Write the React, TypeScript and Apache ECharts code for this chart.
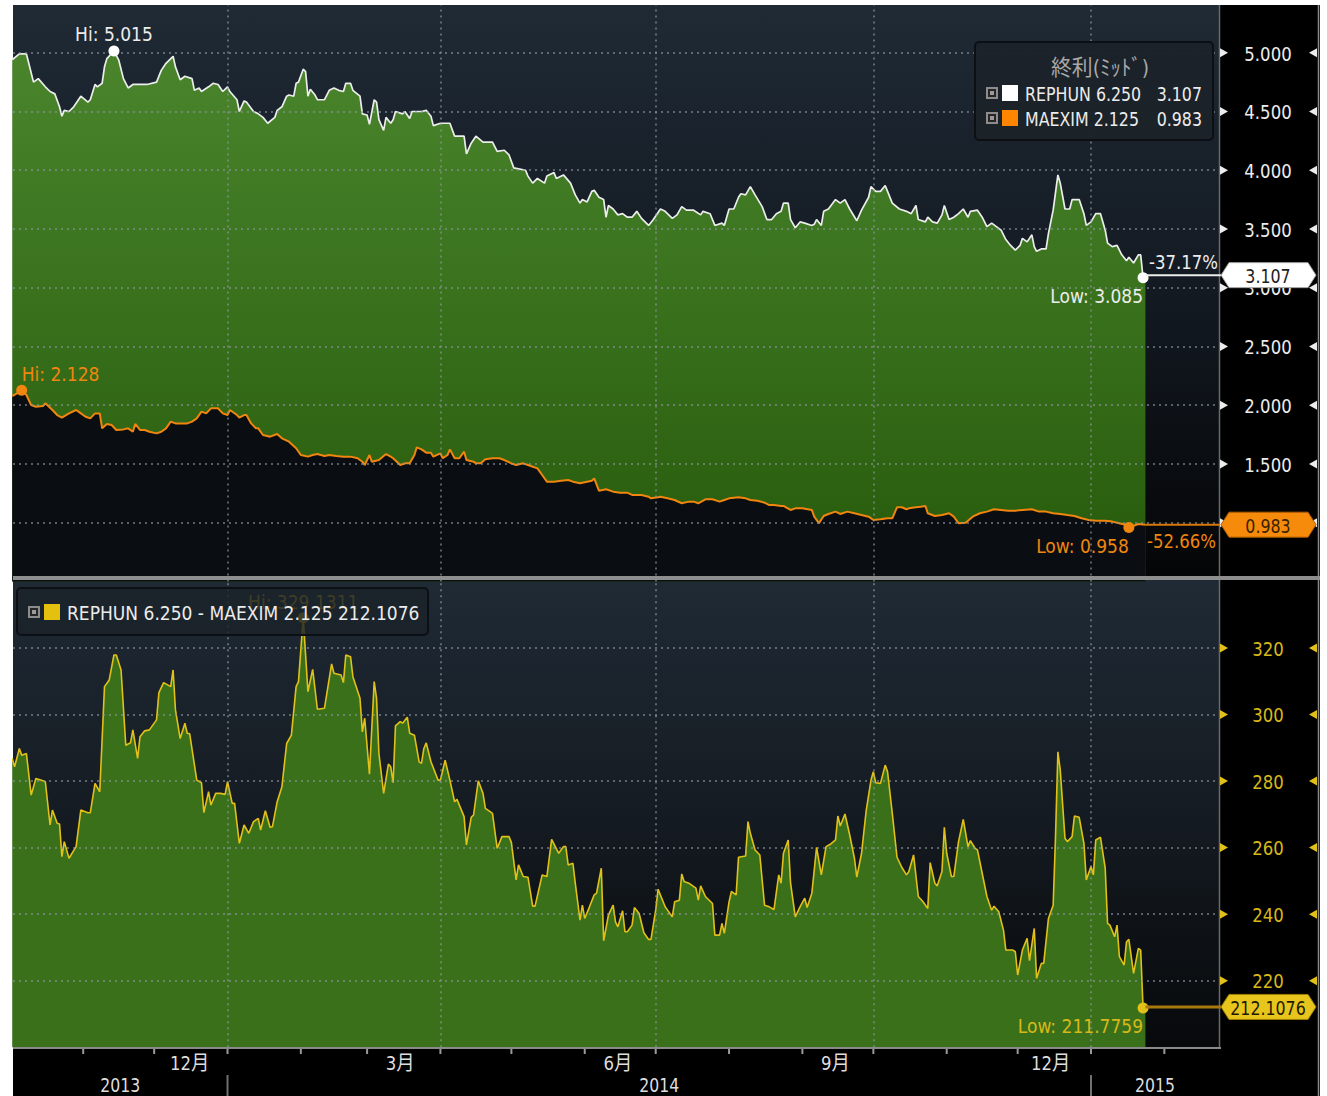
import React, { useEffect, useRef } from "react";
import * as echarts from "echarts";

const FONT = '"Liberation Sans Narrow", "DejaVu Sans Condensed", "Noto Sans CJK JP", sans-serif';
const DAY_MS = 86400000;
const BASE_MS = Date.UTC(2013, 9, 1); // day 0 = 2013-10-01
const AXIS_START_DAY = 1.33;
const AXIS_END_DAY = 511.1;

// [day since 2013-10-01, yield %]
const rephunYield: number[][] = [
  [1,4.94],[4,4.99],[7,4.99],[8,4.91],[10,4.75],[12,4.78],[15,4.71],[17,4.67],[19,4.65],[21,4.54],[22,4.46],[23,4.51],[25,4.50],[27,4.54],[30,4.63],[33,4.58],[34,4.60],[36,4.73],[37,4.71],[39,4.74],[40,4.88],[41,4.95],[44,5.015],[46,4.94],[48,4.78],[50,4.70],[52,4.73],[55,4.73],[58,4.73],[62,4.75],[64,4.85],[66,4.91],[69,4.97],[70,4.88],[72,4.77],[74,4.80],[77,4.78],[78,4.68],[80,4.70],[81,4.67],[84,4.71],[86,4.74],[88,4.73],[90,4.67],[92,4.71],[93,4.67],[96,4.60],[97,4.50],[99,4.59],[100,4.58],[103,4.50],[105,4.48],[107,4.45],[109,4.40],[112,4.45],[113,4.51],[115,4.54],[117,4.63],[118,4.64],[120,4.63],[121,4.74],[122,4.75],[124,4.86],[125,4.84],[126,4.63],[127,4.69],[129,4.64],[130,4.60],[133,4.60],[135,4.68],[137,4.70],[139,4.68],[141,4.67],[142,4.74],[144,4.74],[145,4.68],[148,4.63],[149,4.48],[151,4.47],[152,4.39],[154,4.60],[155,4.58],[156,4.43],[158,4.34],[159,4.45],[161,4.40],[162,4.43],[163,4.50],[166,4.48],[167,4.50],[169,4.44],[170,4.50],[172,4.50],[174,4.50],[176,4.51],[178,4.46],[179,4.38],[182,4.40],[186,4.40],[188,4.29],[192,4.29],[193,4.14],[195,4.23],[197,4.29],[200,4.24],[204,4.24],[206,4.16],[209,4.17],[211,4.13],[213,4.02],[218,4.00],[219,3.95],[221,3.89],[223,3.93],[226,3.89],[227,3.95],[230,3.98],[231,3.93],[234,3.96],[237,3.89],[239,3.79],[241,3.72],[242,3.75],[244,3.73],[246,3.82],
  [247,3.83],[249,3.77],[251,3.75],[252,3.60],[253,3.70],[255,3.67],[257,3.62],[259,3.63],[261,3.60],[263,3.60],[265,3.65],[267,3.59],[270,3.53],[272,3.58],[275,3.67],[277,3.65],[280,3.59],[282,3.62],[284,3.69],[286,3.66],[289,3.66],[292,3.62],[293,3.65],[296,3.63],[298,3.53],[301,3.55],[302,3.53],[304,3.67],[306,3.67],[308,3.77],[309,3.80],[311,3.79],[313,3.86],[315,3.79],[318,3.69],[320,3.58],[322,3.58],[324,3.63],[326,3.65],[327,3.72],[329,3.72],[330,3.58],[332,3.51],[334,3.56],[336,3.55],[339,3.53],[340,3.54],[341,3.58],[343,3.53],[344,3.65],[346,3.67],[349,3.75],[351,3.72],[353,3.75],[355,3.67],[358,3.57],[360,3.66],[363,3.77],[364,3.86],[366,3.82],[368,3.82],[370,3.87],[371,3.82],[373,3.72],[376,3.67],[379,3.65],[381,3.63],[383,3.70],[384,3.58],[387,3.56],[388,3.60],[390,3.56],[392,3.55],[394,3.62],[395,3.70],[397,3.58],[399,3.60],[401,3.63],[403,3.67],[405,3.60],[406,3.65],[409,3.66],[411,3.60],[413,3.52],[415,3.55],[417,3.52],[419,3.49],[421,3.41],[423,3.36],[425,3.32],[427,3.36],[428,3.42],[430,3.39],[432,3.45],[433,3.35],[434,3.31],[436,3.33],[438,3.33],[439,3.46],[441,3.66],[443,3.96],[444,3.89],[446,3.67],[448,3.67],[449,3.75],[452,3.75],[454,3.63],[455,3.53],[457,3.56],[459,3.63],[461,3.63],[463,3.49],[464,3.38],[466,3.35],[468,3.36],[470,3.28],[472,3.23],[473,3.26],[475,3.21],[477,3.28],[478,3.28],[479,3.085],[480,3.107],
];

const maeximYield: number[][] = [
  [1,2.078],[3,2.101],[5,2.128],[7,2.087],[9,2.001],[11,1.987],[14,1.993],[15,2.016],[18,1.959],[20,1.916],[22,1.894],[25,1.930],[28,1.959],[29,1.945],[32,1.902],[34,1.888],[36,1.930],[38,1.930],[39,1.803],[41,1.840],[43,1.831],[45,1.789],[48,1.794],[50,1.803],[52,1.774],[53,1.840],[55,1.789],[57,1.789],[59,1.774],[62,1.760],[64,1.774],[66,1.803],[68,1.860],[70,1.845],[73,1.845],[75,1.845],[77,1.860],[79,1.888],[81,1.945],[83,1.930],[85,1.973],[88,1.973],[90,1.930],[92,1.916],[93,1.959],[96,1.916],[97,1.894],[99,1.916],[100,1.916],[102,1.845],[104,1.803],[105,1.803],[107,1.746],[110,1.732],[113,1.755],[115,1.718],[118,1.689],[121,1.633],[123,1.576],[126,1.562],[128,1.576],[130,1.584],[133,1.567],[135,1.576],[138,1.567],[141,1.562],[144,1.562],[147,1.548],[149,1.519],[150,1.491],[152,1.576],[153,1.519],[156,1.533],[159,1.584],[161,1.562],[162,1.548],[165,1.491],[167,1.505],[169,1.505],[171,1.576],[172,1.641],[174,1.624],[176,1.596],[178,1.596],[179,1.562],[182,1.590],[183,1.548],[185,1.576],[186,1.624],[188,1.548],[190,1.548],[192,1.604],[193,1.533],[196,1.519],[197,1.505],[199,1.505],[201,1.539],[204,1.548],[207,1.548],[209,1.533],[212,1.505],[214,1.491],[217,1.505],[219,1.491],[223,1.462],[225,1.406],[227,1.349],[230,1.349],[233,1.357],[236,1.363],[238,1.349],[241,1.335],[244,1.349],[246,1.357],
  [247,1.377],[249,1.272],[252,1.284],[255,1.264],[258,1.255],[261,1.255],[263,1.236],[267,1.236],[270,1.221],[271,1.207],[274,1.216],[275,1.221],[278,1.207],[281,1.193],[284,1.165],[287,1.179],[289,1.179],[291,1.165],[294,1.199],[297,1.199],[300,1.179],[302,1.193],[304,1.207],[308,1.216],[311,1.207],[313,1.193],[316,1.187],[319,1.170],[321,1.150],[323,1.150],[326,1.142],[327,1.142],[330,1.108],[332,1.122],[335,1.122],[339,1.108],[340,1.051],[342,0.995],[344,1.057],[346,1.074],[349,1.094],[351,1.074],[354,1.094],[357,1.080],[360,1.065],[363,1.051],[365,1.023],[368,1.029],[371,1.037],[373,1.037],[375,1.131],[377,1.131],[379,1.114],[380,1.122],[383,1.131],[385,1.136],[387,1.142],[388,1.080],[391,1.057],[394,1.065],[397,1.080],[399,1.051],[401,0.995],[404,1.000],[407,1.051],[410,1.080],[413,1.094],[416,1.114],[419,1.108],[422,1.102],[425,1.102],[428,1.108],[432,1.114],[435,1.094],[438,1.094],[441,1.080],[444,1.074],[447,1.065],[450,1.057],[453,1.037],[456,1.023],[459,1.017],[463,1.017],[466,1.009],[468,1.000],[472,0.980],[473,0.958],[477,0.989],[480,0.983],
];

// spread in bp
const spreadBp: number[][] = [
  [1,286.8],[2,284.3],[4,289.8],[5,287.8],[7,288.3],[9,275.8],[11,280.8],[14,280.1],[15,279.8],[17,266.8],[18,271.3],[20,267.3],[21,267.1],[22,257.3],[23,261.8],[25,256.8],[28,260.3],[30,271.3],[33,270.5],[34,270.5],[36,279.3],[38,276.8],[40,308.4],[42,310.4],[44,317.9],[45,317.9],[47,313.4],[49,290.8],[51,291.5],[52,295.4],[54,286.8],[55,293.3],[57,295.1],[59,295.4],[62,298.4],[63,306.6],[65,309.6],[68,308.4],[69,313.4],[70,301.4],[72,292.8],[74,297.4],[75,294.3],[76,294.3],[79,280.3],[81,279.5],[82,270.5],[84,276.8],[85,272.8],[87,276.3],[89,276.3],[91,276.0],[92,279.8],[94,273.3],[95,273.3],[97,261.3],[99,266.8],[101,264.3],[103,267.8],[105,268.8],[106,265.3],[108,271.1],[110,266.1],[111,266.3],[113,273.8],[115,278.3],[117,291.3],[119,293.8],[121,308.4],[122,309.9],[124,329.1311],[126,306.9],[128,313.6],[130,301.6],[133,301.9],[136,315.2],[137,312.4],[140,311.9],[141,309.6],[142,317.9],[144,317.4],[145,311.4],[148,304.9],[149,294.8],[150,298.9],[152,282.1],[154,309.9],[155,304.9],[156,288.3],[158,276.3],[160,285.1],[161,284.3],[162,279.5],[163,296.6],[165,297.9],[166,297.4],[168,299.2],[169,294.4],[171,293.8],[173,285.8],[174,285.3],[175,289.8],[176,291.5],[178,285.8],[181,280.3],[182,280.3],[184,286.3],[186,280.3],[188,273.8],[189,274.5],[192,269.3],[193,260.8],[195,269.1],[196,269.8],[198,280.1],[200,276.3],[201,271.8],[203,270.8],[204,270.3],[206,259.8],[208,263.3],[211,263.3],[212,261.5],[214,250.3],[215,254.8],[217,251.3],[219,251.1],[221,242.4],[222,242.4],[225,251.8],[227,251.3],[229,262.5],[232,258.3],[234,260.3],[235,260.3],[236,254.8],[238,255.3],[239,249.3],[241,238.2],[242,242.7],[243,238.7],[245,242.2],[247,245.8],
  [248,246.3],[250,253.8],[251,232.0],[253,239.7],[255,242.7],[256,237.7],[257,236.2],[259,241.0],[260,234.7],[261,234.7],[263,236.7],[264,242.0],[266,240.2],[268,234.4],[270,232.4],[271,232.4],[273,241.2],[274,247.5],[277,242.2],[278,241.2],[280,239.2],[281,243.7],[283,244.2],[284,252.1],[285,249.8],[287,249.3],[290,247.8],[291,244.2],[292,248.5],[294,245.3],[297,243.2],[298,233.7],[300,233.7],[301,237.2],[302,234.2],[304,243.7],[305,246.8],[307,245.8],[308,257.1],[311,257.5],[312,267.8],[313,264.3],[315,259.3],[317,257.8],[319,242.7],[321,242.2],[323,241.4],[325,251.8],[326,249.3],[327,258.3],[329,262.3],[330,249.3],[332,239.2],[334,242.2],[336,244.8],[337,242.0],[339,246.3],[341,260.1],[343,251.8],[345,260.3],[347,261.1],[349,262.3],[350,269.5],[351,266.5],[353,270.1],[355,263.8],[357,256.8],[358,251.1],[360,258.3],[362,271.3],[364,280.3],[365,282.8],[366,279.5],[368,279.3],[370,284.8],[371,282.8],[373,270.3],[375,257.1],[377,254.1],[379,251.8],[380,252.8],[382,257.8],[384,245.3],[386,243.7],[388,241.7],[389,255.5],[391,249.3],[392,248.5],[394,252.8],[395,266.1],[396,258.3],[398,251.3],[399,251.3],[401,261.8],[403,268.5],[405,260.3],[406,262.1],[408,259.8],[409,259.3],[411,252.3],[413,245.3],[415,241.2],[416,242.4],[418,240.7],[420,235.2],[421,229.2],[424,229.2],[425,228.7],[426,221.7],[428,229.2],[430,232.7],[431,226.0],[433,235.7],[434,220.7],[436,225.2],[437,225.2],[439,238.7],[441,242.7],[442,263.3],[443,288.8],[444,283.3],[446,262.8],[447,261.8],[449,263.3],[450,269.5],[452,269.1],[454,261.3],[455,250.3],[457,254.3],[458,251.8],[459,262.3],[461,263.1],[463,253.8],[464,237.2],[465,236.7],[467,233.2],[468,236.7],[469,227.2],[471,224.7],[472,231.7],[473,232.4],[475,222.2],[477,229.7],[478,229.2],[479,211.7759],[480,212.1076],
];

const topTickValues = [1.0, 1.5, 2.0, 2.5, 3.0, 3.5, 4.0, 4.5, 5.0];
const bottomTickValues = [220, 240, 260, 280, 300, 320];
const quarterStarts = ["2014-01-01", "2014-04-01", "2014-07-01", "2014-10-01", "2015-01-01"];
const monthStarts = ["2013-11-01","2013-12-01","2014-01-01","2014-02-01","2014-03-01","2014-04-01","2014-05-01","2014-06-01","2014-07-01","2014-08-01","2014-09-01","2014-10-01","2014-11-01","2014-12-01","2015-01-01","2015-02-01"];
const monthLabelDates = ["2013-12-16", "2014-03-15", "2014-06-15", "2014-09-15", "2014-12-15"];
const monthLabelTexts = ["12月", "3月", "6月", "9月", "12月"];
const yearBoundaries = ["2014-01-01", "2015-01-01"];
const yearLabels = ["2013", "2014", "2015"];

const legendTitle = "終利(ﾐｯﾄﾞ)";
const rephunName = "REPHUN 6.250";
const maeximName = "MAEXIM 2.125";
const spreadName = "REPHUN 6.250 - MAEXIM 2.125";
const rephunChange = "-37.17%";
const maeximChange = "-52.66%";

const WHITE = "#ececec";
const ORANGE = "#f0850f";
const YELLOW = "#e2c01a";
const YELLOW_TXT = "#d8b818";

const toTs = (d: number) => BASE_MS + d * DAY_MS;
const toSeries = (arr: number[][]) => arr.map((p) => [toTs(p[0]), p[1]]);
const last = (arr: number[][]) => arr[arr.length - 1];

function buildOption(): any {
  const labelBase = { show: true, fontSize: 19, fontFamily: FONT };
  return {
    animation: false,
    backgroundColor: "transparent",
    grid: [
      { left: 13, top: 0, width: 1206, height: 581.4 },
      { left: 13, top: 581.5, width: 1206, height: 465.7 },
    ],
    xAxis: [0, 1].map((i) => ({
      type: "time",
      gridIndex: i,
      min: toTs(AXIS_START_DAY),
      max: toTs(AXIS_END_DAY),
      show: false,
    })),
    yAxis: [
      { type: "value", gridIndex: 0, min: 0.5, max: 5.449, interval: 0.5, show: false },
      { type: "value", gridIndex: 1, min: 200, max: 340, interval: 20, show: false },
    ],
    series: [
      {
        name: rephunName,
        type: "line",
        xAxisIndex: 0,
        yAxisIndex: 0,
        data: toSeries(rephunYield),
        symbol: "none",
        silent: true,
        z: 2,
        lineStyle: { color: WHITE, width: 1.7 },
        areaStyle: {
          origin: "start",
          opacity: 1,
          color: {
            type: "linear", x: 0, y: 0, x2: 0, y2: 1,
            colorStops: [
              { offset: 0, color: "#4a852c" },
              { offset: 1, color: "#265a0b" },
            ],
          },
        },
        markPoint: {
          symbol: "circle",
          symbolSize: 11,
          silent: true,
          itemStyle: { color: "#ffffff" },
          label: { ...labelBase, color: WHITE },
          data: [
            { type: "max", valueIndex: 1, label: { position: "top", distance: 2, formatter: (p: any) => "Hi: " + p.value } },
            { type: "min", valueIndex: 1, label: { position: "bottom", align: "right", distance: 3, formatter: (p: any) => "Low: " + p.value } },
          ],
        },
      },
      {
        name: maeximName,
        type: "line",
        xAxisIndex: 0,
        yAxisIndex: 0,
        data: toSeries(maeximYield),
        symbol: "none",
        silent: true,
        z: 2,
        lineStyle: { color: ORANGE, width: 2 },
        areaStyle: { origin: "start", opacity: 1, color: "#0a0d11" },
        markPoint: {
          symbol: "circle",
          symbolSize: 11,
          silent: true,
          itemStyle: { color: ORANGE },
          label: { ...labelBase, color: ORANGE },
          data: [
            { type: "max", valueIndex: 1, label: { position: "top", align: "left", distance: 1, formatter: (p: any) => "Hi: " + p.value } },
            { type: "min", valueIndex: 1, label: { position: "bottom", align: "right", distance: 3, formatter: (p: any) => "Low: " + p.value } },
          ],
        },
      },
      {
        name: "grid-top",
        type: "line",
        xAxisIndex: 0,
        yAxisIndex: 0,
        data: toSeries(rephunYield),
        symbol: "none",
        silent: true,
        z: 1,
        lineStyle: { opacity: 0 },
        markLine: {
          silent: true,
          symbol: ["none", "none"],
          label: { show: false },
          lineStyle: { color: "rgba(140,150,160,0.6)", width: 2, type: [2, 4] },
          data: [
            ...topTickValues.map((v) => ({ yAxis: v })),
            ...quarterStarts.map((d) => ({ xAxis: Date.parse(d) })),
          ],
        },
      },
      {
        name: spreadName,
        type: "line",
        xAxisIndex: 1,
        yAxisIndex: 1,
        data: toSeries(spreadBp),
        symbol: "none",
        silent: true,
        z: 2,
        lineStyle: { color: YELLOW, width: 1.6 },
        areaStyle: { origin: "start", opacity: 1, color: "#3a7019" },
        markPoint: {
          symbol: "circle",
          symbolSize: 11,
          silent: true,
          itemStyle: { color: YELLOW },
          label: { ...labelBase, color: YELLOW_TXT },
          data: [
            { type: "max", valueIndex: 1, label: { position: "top", distance: 1, formatter: (p: any) => "Hi: " + p.value } },
            { type: "min", valueIndex: 1, label: { position: "bottom", align: "right", distance: 3, formatter: (p: any) => "Low: " + p.value } },
          ],
        },
      },
      {
        name: "grid-bottom",
        type: "line",
        xAxisIndex: 1,
        yAxisIndex: 1,
        data: toSeries(spreadBp),
        symbol: "none",
        silent: true,
        z: 1,
        lineStyle: { opacity: 0 },
        markLine: {
          silent: true,
          symbol: ["none", "none"],
          label: { show: false },
          lineStyle: { color: "rgba(140,150,160,0.6)", width: 2, type: [2, 4] },
          data: [
            ...bottomTickValues.map((v) => ({ yAxis: v })),
            ...quarterStarts.map((d) => ({ xAxis: Date.parse(d) })),
          ],
        },
      },
    ],
  };
}

function buildGraphics(chart: any): any[] {
  const X = (ms: number) => chart.convertToPixel({ xAxisIndex: 0 }, ms) as number;
  const YT = (v: number) => chart.convertToPixel({ yAxisIndex: 0 }, v) as number;
  const YB = (v: number) => chart.convertToPixel({ yAxisIndex: 1 }, v) as number;
  const g: any[] = [];
  const txt = (text: string, x: number, y: number, fill: string, align = "center", size = 20, z = 60, sx = 0.92) =>
    g.push({ type: "text", x, y, z, scaleX: sx, silent: true, style: { text, fill, fontSize: size, fontFamily: FONT, align, verticalAlign: "middle" } });
  const rect = (x: number, y: number, w: number, h: number, fill: any, z: number, extra: any = {}) =>
    g.push({ type: "rect", z, silent: true, shape: { x, y, width: w, height: h, r: extra.r || 0 }, style: { fill, stroke: extra.stroke, lineWidth: extra.lw || 0 } });
  const line = (x1: number, y1: number, x2: number, y2: number, stroke: string, w: number, z: number) =>
    g.push({ type: "line", z, silent: true, shape: { x1, y1, x2, y2 }, style: { stroke, lineWidth: w } });
  const poly = (points: number[][], fill: string, z: number, stroke?: string) =>
    g.push({ type: "polygon", z, silent: true, shape: { points }, style: { fill, stroke, lineWidth: stroke ? 1 : 0 } });

  const plotL = 13, plotR = 1219, axR = 1320;
  // backgrounds
  rect(plotL, 5, plotR - plotL, 572, {
    type: "linear", x: 0, y: 0, x2: 0, y2: 1,
    colorStops: [{ offset: 0, color: "#1f2a35" }, { offset: 0.55, color: "#121820" }, { offset: 1, color: "#040506" }],
  }, -10);
  rect(plotL, 580, plotR - plotL, 468, {
    type: "linear", x: 0, y: 0, x2: 0, y2: 1,
    colorStops: [{ offset: 0, color: "#1f2a35" }, { offset: 0.5, color: "#151b22" }, { offset: 1, color: "#07090b" }],
  }, -10);
  // white strip above chart (plot area starts at y=5)
  rect(0, 0, 1327, 5, "#ffffff", 92);
  rect(plotR, 5, axR - plotR, 1091, "#000000", 40);
  rect(plotL, 1048, axR - plotL, 48, "#000000", 40);
  // separator
  rect(plotL, 576, axR - plotL, 4, "#8e8e8e", 90);
  line(plotR + 0.5, 5, plotR + 0.5, 1048, "#6a6a6a", 1.5, 45);
  line(axR - 1.5, 5, axR - 1.5, 1096, "#8a8a8a", 1.5, 45);

  // right axis labels & triangles
  topTickValues.forEach((v) => {
    const y = YT(v);
    poly([[plotR + 1, y - 4.5], [plotR + 9, y], [plotR + 1, y + 4.5]], WHITE, 55);
    poly([[axR - 3, y - 4.5], [axR - 11, y], [axR - 3, y + 4.5]], WHITE, 55);
    txt(v.toFixed(3), 1268, y + 1, WHITE, "center", 20, 55);
  });
  bottomTickValues.forEach((v) => {
    const y = YB(v);
    poly([[plotR + 1, y - 4.5], [plotR + 9, y], [plotR + 1, y + 4.5]], YELLOW, 55);
    poly([[axR - 3, y - 4.5], [axR - 11, y], [axR - 3, y + 4.5]], YELLOW, 55);
    txt(String(v), 1268, y + 1, YELLOW_TXT, "center", 20, 55);
  });

  // end-value lines, boxes and change labels
  const box = (y: number, fill: string, textColor: string, text: string, stroke: string) => {
    poly([[plotR + 2, y], [plotR + 10, y - 12.5], [axR - 12, y - 12.5], [axR - 4, y], [axR - 12, y + 12.5], [plotR + 10, y + 12.5]], fill, 70, stroke);
    txt(text, 1268, y + 1, textColor, "center", 20, 71, 0.88);
  };
  const rLast = last(rephunYield), mLast = last(maeximYield), sLast = last(spreadBp);
  const yR = YT(rLast[1]), yM = YT(mLast[1]), yS = YB(sLast[1]);
  line(X(toTs(rLast[0])), yR, plotR + 2, yR, WHITE, 2, 50);
  line(X(toTs(mLast[0])), yM, plotR + 2, yM, "#d9780a", 2, 50);
  line(X(toTs(sLast[0])), yS, plotR + 2, yS, "#a8780f", 3, 50);
  box(yR, "#ffffff", "#222222", rLast[1].toFixed(3), "#a0a0a0");
  box(yM, "#f68b0b", "#3a2200", mLast[1].toFixed(3), "#b05a00");
  box(yS, "#e8c51d", "#1e1a00", sLast[1].toFixed(4), "#a08000");
  txt(rephunChange, plotR - 1, yR - 13, WHITE, "right", 20, 60);
  txt(maeximChange, plotR - 3, yM + 17, ORANGE, "right", 20, 60);

  // bottom time axis
  rect(plotL, 1047, plotR - plotL + 2, 2, "#8a8a8a", 60);
  monthStarts.forEach((d) => {
    const x = X(Date.parse(d));
    line(x, 1049, x, 1054, "#9a9a9a", 2, 60);
  });
  monthLabelDates.forEach((d, i) => txt(monthLabelTexts[i], X(Date.parse(d)), 1063, "#dedede", "center", 20, 60));
  const bounds = [toTs(AXIS_START_DAY), ...yearBoundaries.map((d) => Date.parse(d)), toTs(AXIS_END_DAY)];
  yearBoundaries.forEach((d) => {
    const x = X(Date.parse(d));
    line(x, 1075, x, 1096, "#707070", 2, 60);
  });
  yearLabels.forEach((t, i) => txt(t, (X(bounds[i]) + X(bounds[i + 1])) / 2, 1085, "#dedede", "center", 19, 60));

  // legend icon helper
  const icon = (x: number, y: number) => {
    rect(x, y, 12, 12, "#8c8c8c", 96);
    rect(x + 2, y + 2, 8, 8, "#262626", 97);
    rect(x + 4, y + 4, 4, 4, "#9a9a9a", 98);
  };
  // top legend
  rect(975, 42, 238, 98, "rgba(27,34,41,0.96)", 95, { r: 4, stroke: "#0c1014", lw: 2 });
  txt(legendTitle, 1100, 67, "#a8a8a8", "center", 22, 99, 0.95);
  icon(986, 87);
  rect(1002, 85, 16, 16, "#ffffff", 98);
  txt(rephunName, 1025, 94, WHITE, "left", 20, 99, 0.88);
  txt(rLast[1].toFixed(3), 1202, 94, WHITE, "right", 20, 99, 0.88);
  icon(986, 112);
  rect(1002, 110, 16, 16, "#ff8400", 98);
  txt(maeximName, 1025, 119, WHITE, "left", 20, 99, 0.88);
  txt(mLast[1].toFixed(3), 1202, 119, WHITE, "right", 20, 99, 0.88);

  // bottom legend
  rect(17, 588, 411, 47, "rgba(27,34,41,0.82)", 95, { r: 4, stroke: "#0c1014", lw: 2 });
  icon(28, 606);
  rect(44, 604, 16, 16, "#e5c10f", 98);
  txt(spreadName + " " + sLast[1].toFixed(4), 67, 613, WHITE, "left", 20, 99, 0.95);

  return g;
}

export default function App() {
  const ref = useRef<HTMLDivElement>(null);
  useEffect(() => {
    const el = ref.current;
    if (!el) return;
    const chart = echarts.init(el, null, { renderer: "svg" });
    chart.setOption(buildOption());
    chart.setOption({ graphic: buildGraphics(chart) });
    return () => chart.dispose();
  }, []);
  return (
    <div
      ref={ref}
      style={{ position: "absolute", left: 0, top: 0, width: 1327, height: 1096, background: "#ffffff" }}
    />
  );
}
